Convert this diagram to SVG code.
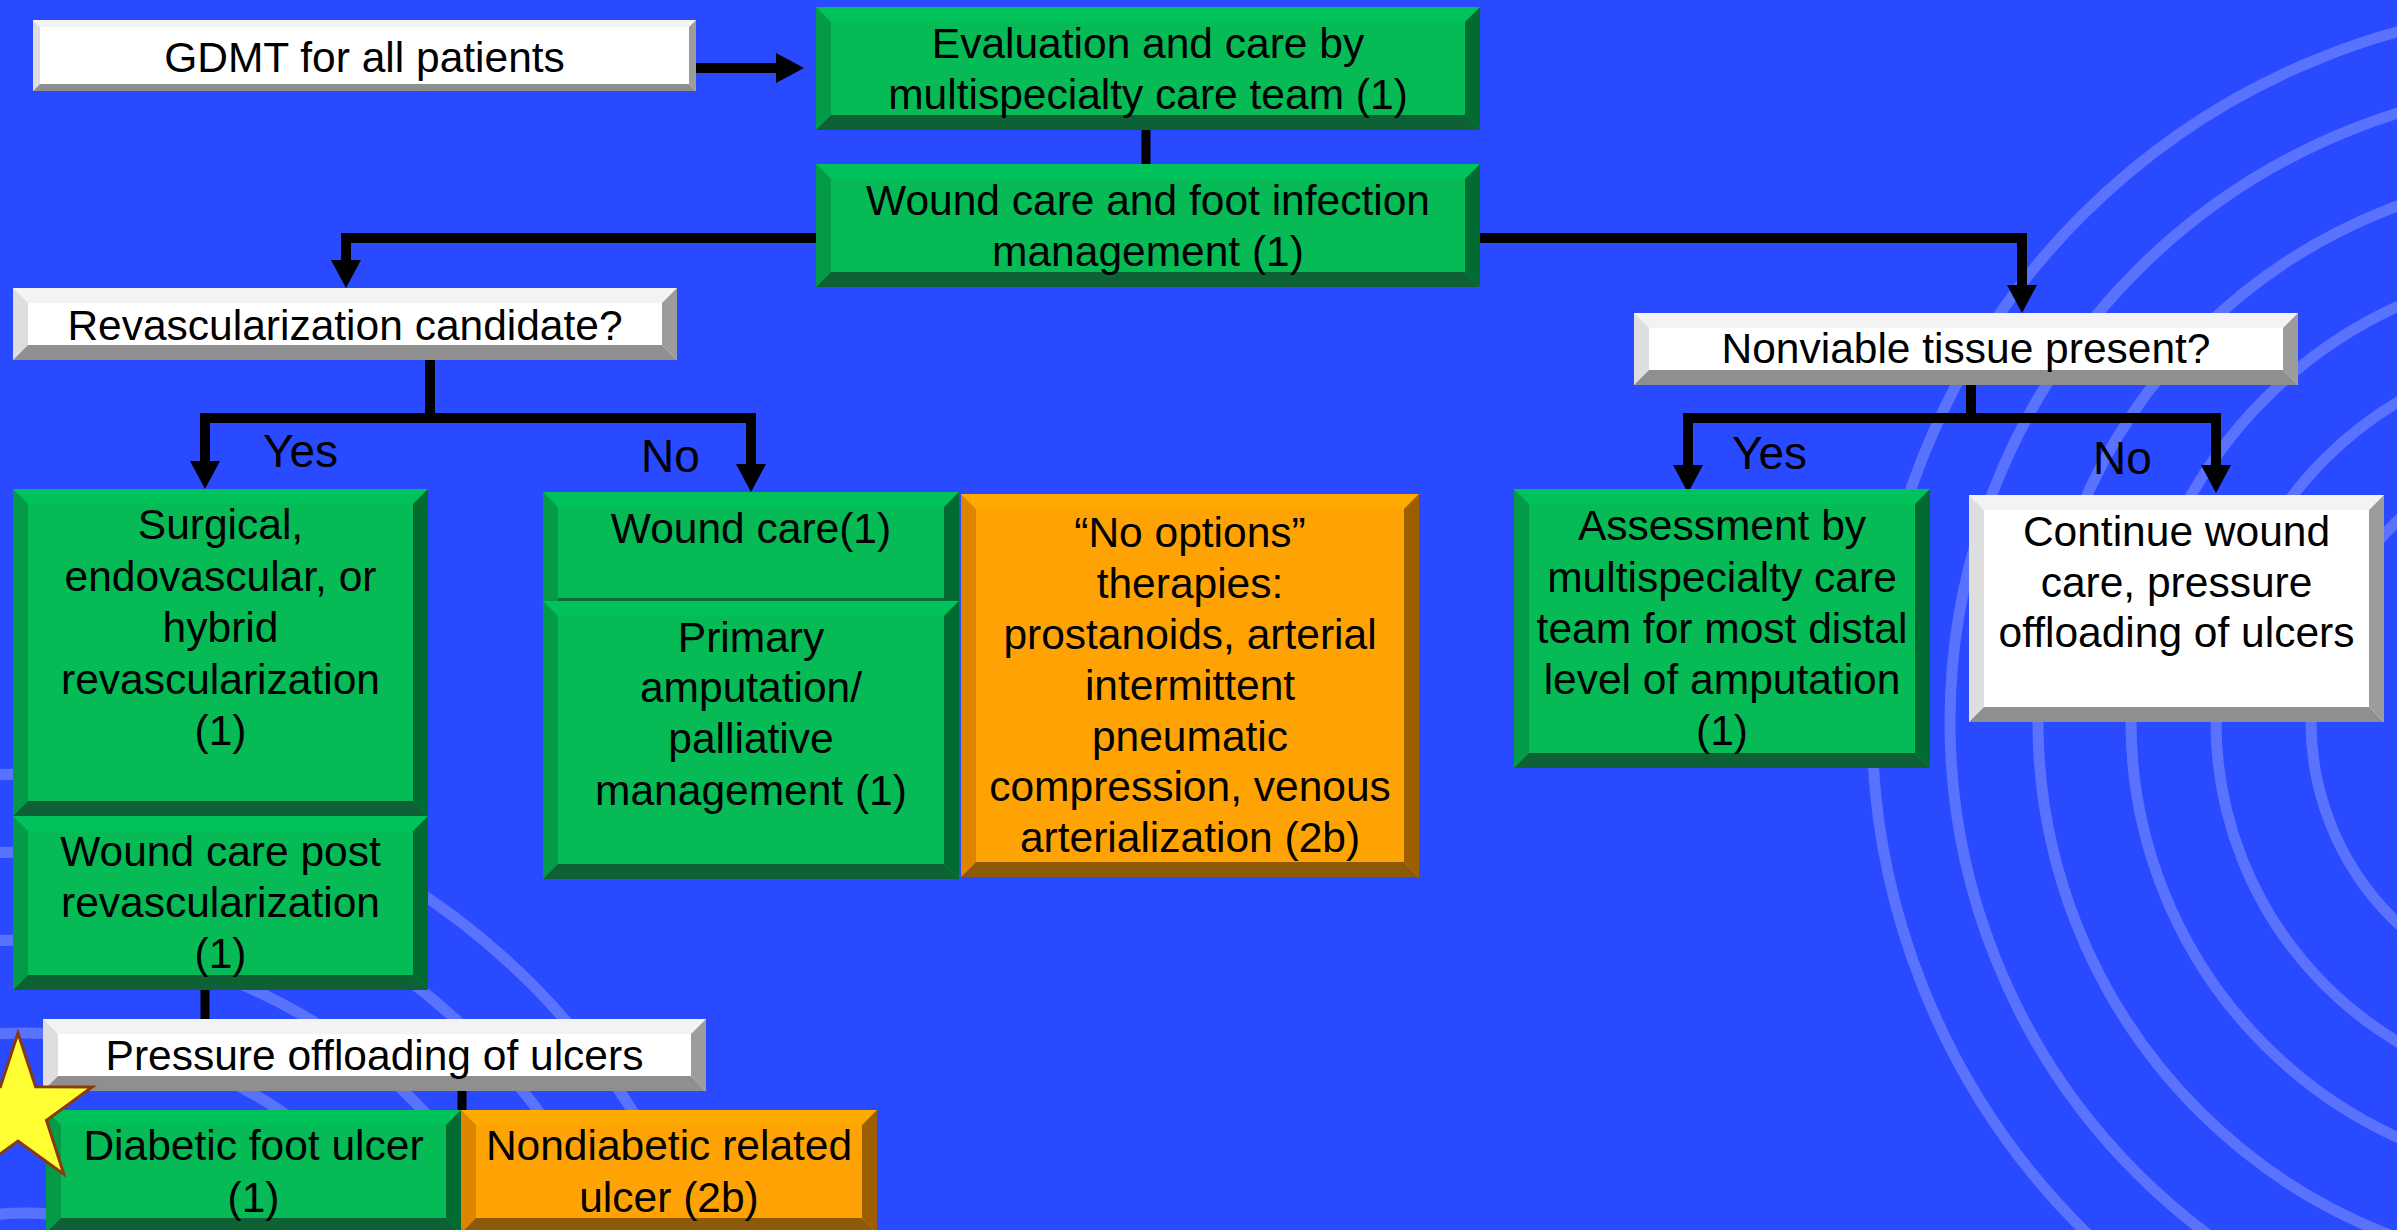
<svg xmlns="http://www.w3.org/2000/svg" width="2397" height="1230" viewBox="0 0 2397 1230">
<style>
.gf{fill:#06BA56}.gt{fill:#00C25B}.gl{fill:#039A48}.gr{fill:#016B31}.gb{fill:#0E6135}
.wf{fill:#FFFFFF}.wt{fill:#F3F3F3}.wl{fill:#DEDEDE}.wr{fill:#9C9C9C}.wb{fill:#8F8F8F}
.of{fill:#FFA305}.ot{fill:#FFAA00}.ol{fill:#DE8500}.or{fill:#9C5E00}.ob{fill:#8C5A09}
text{font-family:"Liberation Sans",Arial,sans-serif;font-size:42.5px;fill:#000;text-anchor:middle}
.lbl{text-anchor:start;font-size:46px}
.ring{fill:none;stroke:#5A73FF;stroke-width:11}
.conn{fill:none;stroke:#000;stroke-width:10;stroke-linejoin:miter}
</style>
<defs>
<marker id="arr" viewBox="0 0 28 30" markerWidth="28" markerHeight="30" refX="0" refY="15" orient="auto" markerUnits="userSpaceOnUse">
<path d="M0,0 L28,15 L0,30 Z" fill="#000"/>
</marker>
</defs>
<rect width="2397" height="1230" fill="#2A4AFF"/>
<g id="rings">
<circle class="ring" cx="2588" cy="722" r="716"/>
<circle class="ring" cx="2588" cy="722" r="638"/>
<circle class="ring" cx="2588" cy="722" r="550"/>
<circle class="ring" cx="2588" cy="722" r="457"/>
<circle class="ring" cx="2588" cy="722" r="372"/>
<circle class="ring" cx="2588" cy="722" r="277"/>
<circle class="ring" cx="25" cy="1490" r="716"/>
<circle class="ring" cx="25" cy="1490" r="638"/>
<circle class="ring" cx="25" cy="1490" r="550"/>
<circle class="ring" cx="25" cy="1490" r="457"/>
<circle class="ring" cx="25" cy="1490" r="372"/>
<circle class="ring" cx="25" cy="1490" r="277"/>
</g>
<g id="connectors">
<path class="conn" d="M696,68 H776" marker-end="url(#arr)"/>
<path class="conn" d="M1146,130 V164" style="stroke-width:9"/>
<path class="conn" d="M816,238 H346 V260" marker-end="url(#arr)"/>
<path class="conn" d="M1480,238 H2022 V285" marker-end="url(#arr)"/>
<path class="conn" d="M430,360 V418"/>
<path class="conn" d="M430,418 H205 V461" marker-end="url(#arr)"/>
<path class="conn" d="M430,418 H751 V464" marker-end="url(#arr)"/>
<path class="conn" d="M1971,385 V418"/>
<path class="conn" d="M1971,418 H1688 V465" marker-end="url(#arr)"/>
<path class="conn" d="M1971,418 H2216 V465" marker-end="url(#arr)"/>
<path class="conn" d="M205,990 V1019" style="stroke-width:9"/>
<path class="conn" d="M462,1091 V1110" style="stroke-width:9"/>
</g>
<g id="labels">
<text class="lbl" x="263" y="467">Yes</text>
<text class="lbl" x="641" y="472">No</text>
<text class="lbl" x="1732" y="469">Yes</text>
<text class="lbl" x="2093" y="474">No</text>
</g>
<g id="gdmt">
<rect class="wf" x="33" y="20" width="663" height="71"/>
<polygon class="wt" points="33,20 696,20 689,27 40,27"/>
<polygon class="wl" points="33,20 40,27 40,84 33,91"/>
<polygon class="wr" points="696,20 696,91 689,84 689,27"/>
<polygon class="wb" points="33,91 696,91 689,84 40,84"/>
<text x="364.5" y="72">GDMT for all patients</text>
</g>
<g id="evaluation">
<rect class="gf" x="816" y="7" width="664" height="123"/>
<polygon class="gt" points="816,7 1480,7 1465,22 831,22"/>
<polygon class="gl" points="816,7 831,22 831,115 816,130"/>
<polygon class="gr" points="1480,7 1480,130 1465,115 1465,22"/>
<polygon class="gb" points="816,130 1480,130 1465,115 831,115"/>
<text x="1148" y="58">Evaluation and care by</text>
<text x="1148" y="109">multispecialty care team (1)</text>
</g>
<g id="wound-infection">
<rect class="gf" x="816" y="164" width="664" height="123"/>
<polygon class="gt" points="816,164 1480,164 1465,179 831,179"/>
<polygon class="gl" points="816,164 831,179 831,272 816,287"/>
<polygon class="gr" points="1480,164 1480,287 1465,272 1465,179"/>
<polygon class="gb" points="816,287 1480,287 1465,272 831,272"/>
<text x="1148" y="215">Wound care and foot infection</text>
<text x="1148" y="266">management (1)</text>
</g>
<g id="revasc-candidate">
<rect class="wf" x="13" y="288" width="664" height="72"/>
<polygon class="wt" points="13,288 677,288 662,303 28,303"/>
<polygon class="wl" points="13,288 28,303 28,345 13,360"/>
<polygon class="wr" points="677,288 677,360 662,345 662,303"/>
<polygon class="wb" points="13,360 677,360 662,345 28,345"/>
<text x="345" y="340">Revascularization candidate?</text>
</g>
<g id="nonviable">
<rect class="wf" x="1634" y="313" width="664" height="72"/>
<polygon class="wt" points="1634,313 2298,313 2283,328 1649,328"/>
<polygon class="wl" points="1634,313 1649,328 1649,370 1634,385"/>
<polygon class="wr" points="2298,313 2298,385 2283,370 2283,328"/>
<polygon class="wb" points="1634,385 2298,385 2283,370 1649,370"/>
<text x="1966" y="363">Nonviable tissue present?</text>
</g>
<g id="surgical">
<rect class="gf" x="13" y="489" width="415" height="327"/>
<polygon class="gt" points="13,489 428,489 413,504 28,504"/>
<polygon class="gl" points="13,489 28,504 28,801 13,816"/>
<polygon class="gr" points="428,489 428,816 413,801 413,504"/>
<polygon class="gb" points="13,816 428,816 413,801 28,801"/>
<text x="220.5" y="539">Surgical,</text>
<text x="220.5" y="591">endovascular, or</text>
<text x="220.5" y="642">hybrid</text>
<text x="220.5" y="694">revascularization</text>
<text x="220.5" y="745">(1)</text>
</g>
<g id="wound-post">
<rect class="gf" x="13" y="816" width="415" height="174"/>
<polygon class="gt" points="13,816 428,816 413,831 28,831"/>
<polygon class="gl" points="13,816 28,831 28,975 13,990"/>
<polygon class="gr" points="428,816 428,990 413,975 413,831"/>
<polygon class="gb" points="13,990 428,990 413,975 28,975"/>
<text x="220.5" y="866">Wound care post</text>
<text x="220.5" y="917">revascularization</text>
<text x="220.5" y="968">(1)</text>
</g>
<g id="wound-care">
<rect class="gf" x="543" y="492" width="416" height="124"/>
<polygon class="gt" points="543,492 959,492 944,507 558,507"/>
<polygon class="gl" points="543,492 558,507 558,601 543,616"/>
<polygon class="gr" points="959,492 959,616 944,601 944,507"/>
<text x="751" y="543">Wound care(1)</text>
</g>
<g id="primary-amputation">
<rect class="gf" x="543" y="601" width="416" height="278"/>
<rect x="558" y="598" width="386" height="3" fill="#0B6B35"/>
<polygon class="gt" points="543,601 959,601 944,616 558,616"/>
<polygon class="gl" points="543,601 558,616 558,864 543,879"/>
<polygon class="gr" points="959,601 959,879 944,864 944,616"/>
<polygon class="gb" points="543,879 959,879 944,864 558,864"/>
<text x="751" y="652">Primary</text>
<text x="751" y="702">amputation/</text>
<text x="751" y="753">palliative</text>
<text x="751" y="805">management (1)</text>
</g>
<g id="no-options">
<rect class="of" x="961" y="494" width="458" height="383"/>
<polygon class="ot" points="961,494 1419,494 1404,509 976,509"/>
<polygon class="ol" points="961,494 976,509 976,862 961,877"/>
<polygon class="or" points="1419,494 1419,877 1404,862 1404,509"/>
<polygon class="ob" points="961,877 1419,877 1404,862 976,862"/>
<text x="1190" y="547">“No options”</text>
<text x="1190" y="598">therapies:</text>
<text x="1190" y="649">prostanoids, arterial</text>
<text x="1190" y="700">intermittent</text>
<text x="1190" y="751">pneumatic</text>
<text x="1190" y="801">compression, venous</text>
<text x="1190" y="852">arterialization (2b)</text>
</g>
<g id="assessment">
<rect class="gf" x="1514" y="489" width="416" height="279"/>
<polygon class="gt" points="1514,489 1930,489 1915,504 1529,504"/>
<polygon class="gl" points="1514,489 1529,504 1529,753 1514,768"/>
<polygon class="gr" points="1930,489 1930,768 1915,753 1915,504"/>
<polygon class="gb" points="1514,768 1930,768 1915,753 1529,753"/>
<text x="1722" y="540">Assessment by</text>
<text x="1722" y="592">multispecialty care</text>
<text x="1722" y="643">team for most distal</text>
<text x="1722" y="694">level of amputation</text>
<text x="1722" y="745">(1)</text>
</g>
<g id="continue">
<rect class="wf" x="1969" y="495" width="415" height="227"/>
<polygon class="wt" points="1969,495 2384,495 2369,510 1984,510"/>
<polygon class="wl" points="1969,495 1984,510 1984,707 1969,722"/>
<polygon class="wr" points="2384,495 2384,722 2369,707 2369,510"/>
<polygon class="wb" points="1969,722 2384,722 2369,707 1984,707"/>
<text x="2176.5" y="546">Continue wound</text>
<text x="2176.5" y="597">care, pressure</text>
<text x="2176.5" y="647">offloading of ulcers</text>
</g>
<g id="pressure">
<rect class="wf" x="43" y="1019" width="663" height="72"/>
<polygon class="wt" points="43,1019 706,1019 691,1034 58,1034"/>
<polygon class="wl" points="43,1019 58,1034 58,1076 43,1091"/>
<polygon class="wr" points="706,1019 706,1091 691,1076 691,1034"/>
<polygon class="wb" points="43,1091 706,1091 691,1076 58,1076"/>
<text x="374.5" y="1070">Pressure offloading of ulcers</text>
</g>
<g id="diabetic">
<rect class="gf" x="46" y="1110" width="415" height="123"/>
<polygon class="gt" points="46,1110 461,1110 446,1125 61,1125"/>
<polygon class="gl" points="46,1110 61,1125 61,1218 46,1233"/>
<polygon class="gr" points="461,1110 461,1233 446,1218 446,1125"/>
<polygon class="gb" points="46,1233 461,1233 446,1218 61,1218"/>
<text x="253.5" y="1160">Diabetic foot ulcer</text>
<text x="253.5" y="1212">(1)</text>
</g>
<g id="nondiabetic">
<rect class="of" x="461" y="1110" width="416" height="123"/>
<polygon class="ot" points="461,1110 877,1110 862,1125 476,1125"/>
<polygon class="ol" points="461,1110 476,1125 476,1218 461,1233"/>
<polygon class="or" points="877,1110 877,1233 862,1218 862,1125"/>
<polygon class="ob" points="461,1233 877,1233 862,1218 476,1218"/>
<text x="669" y="1160">Nondiabetic related</text>
<text x="669" y="1212">ulcer (2b)</text>
</g>
<g id="star">
<polygon points="18,1033 35.6,1086.7 92.2,1086.9 46.5,1120.3 63.8,1174.1 18,1141 -27.8,1174.1 -10.5,1120.3 -56.2,1086.9 0.4,1086.7" fill="#FFFF33" stroke="#8B3A0E" stroke-width="3" stroke-linejoin="miter"/>
</g>
</svg>
